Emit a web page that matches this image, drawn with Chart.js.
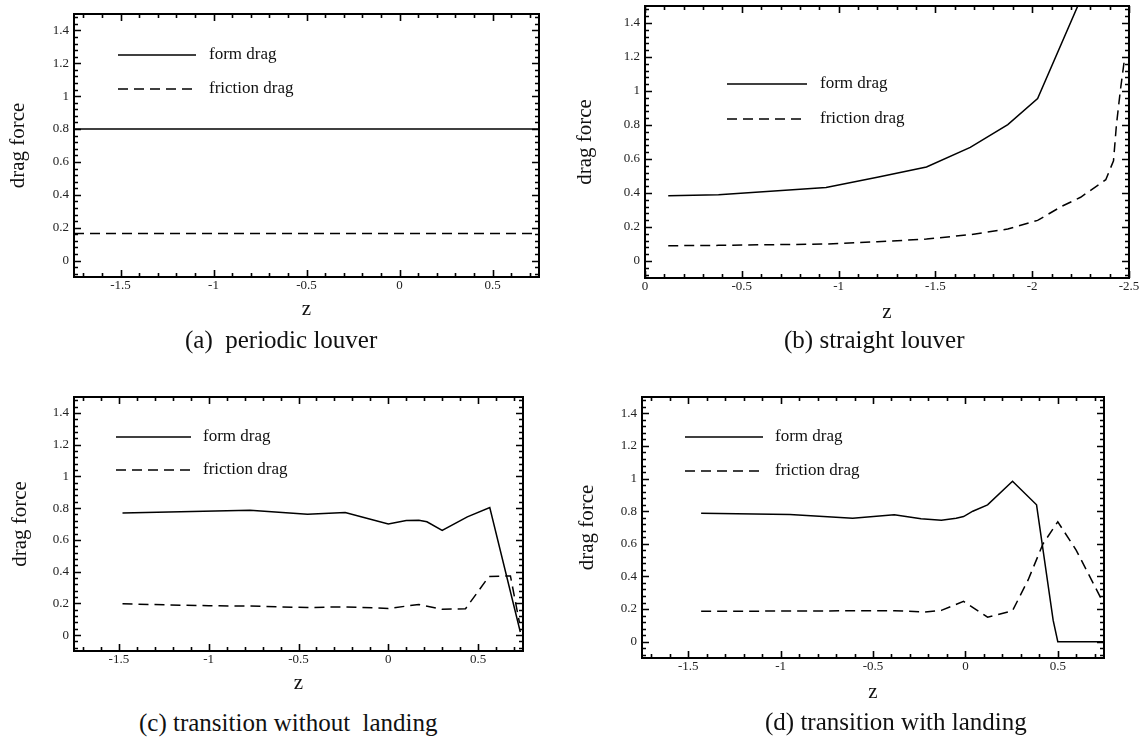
<!DOCTYPE html>
<html lang="en">
<head>
<meta charset="UTF-8">
<title>Form and friction drag along the louver</title>
<script src="https://cdn.jsdelivr.net/npm/chart.js"></script>
<style>
  body { margin: 0; background: #fff; width: 1146px; height: 737px; position: relative; overflow: hidden; }
  canvas { position: absolute; }
  .cap { position: absolute; font-family: "Liberation Serif", "DejaVu Serif", serif; font-size: 25px; line-height: 30px; white-space: pre; color: #111; }
</style>
</head>
<body>
<canvas id="chartA" width="560" height="330" style="left:0px;top:0px"></canvas>
<canvas id="chartB" width="586" height="330" style="left:560px;top:0px"></canvas>
<canvas id="chartC" width="560" height="330" style="left:0px;top:370px"></canvas>
<canvas id="chartD" width="586" height="340" style="left:560px;top:370px"></canvas>

<div class="cap" style="left:185px;top:325px">(a)  periodic louver</div>
<div class="cap" style="left:784px;top:325px">(b) straight louver</div>
<div class="cap" style="left:139px;top:708px">(c) transition without  landing</div>
<div class="cap" style="left:765px;top:707px">(d) transition with landing</div>

<script>
// tick labels
const zTicks = [-1.5, -1, -0.5, 0, 0.5];
const zTicksB = [0, -0.5, -1, -1.5, -2, -2.5];
const dragTicks = [0, 0.2, 0.4, 0.6, 0.8, 1, 1.2, 1.4];

// (a) periodic louver
const zFormA = [-1.75, 0.75];
const formA = [0.8, 0.8];
const zFricA = [-1.75, 0.75];
const fricA = [0.165, 0.165];

// (b) straight louver
const zFormB = [-0.12, -0.38, -0.935, -1.2, -1.454, -1.68, -1.874, -2.028, -2.30];
const formB = [0.384, 0.39, 0.433, 0.492, 0.553, 0.668, 0.802, 0.955, 1.67];
const zFricB = [-0.12, -0.38, -0.935, -1.2, -1.454, -1.68, -1.874, -2.028, -2.15, -2.25, -2.38, -2.42, -2.435, -2.455, -2.478];
const fricB = [0.09, 0.092, 0.10, 0.113, 0.129, 0.155, 0.188, 0.239, 0.32, 0.375, 0.478, 0.59, 0.8, 1.0, 1.2];

// (c) transition without landing
const zFormC = [-1.48, -0.77, -0.45, -0.24, -0.115, 0.0, 0.10, 0.17, 0.215, 0.30, 0.44, 0.565, 0.735];
const formC = [0.77, 0.787, 0.762, 0.772, 0.735, 0.70, 0.722, 0.724, 0.714, 0.659, 0.745, 0.804, 0.02];
const zFricC = [-1.48, -1.0, -0.77, -0.45, -0.24, 0.0, 0.17, 0.30, 0.43, 0.56, 0.68, 0.73];
const fricC = [0.197, 0.185, 0.183, 0.174, 0.178, 0.168, 0.193, 0.163, 0.166, 0.369, 0.373, 0.08];

// (d) transition with landing
const zFormD = [-1.43, -0.95, -0.61, -0.385, -0.24, -0.13, -0.05, -0.01, 0.04, 0.12, 0.255, 0.385, 0.475, 0.50, 0.75];
const formD = [0.788, 0.78, 0.757, 0.778, 0.753, 0.745, 0.757, 0.767, 0.80, 0.839, 0.984, 0.839, 0.13, 0.0, 0.0];
const zFricD = [-1.43, -0.95, -0.385, -0.22, -0.13, -0.01, 0.12, 0.255, 0.34, 0.42, 0.50, 0.60, 0.75];
const fricD = [0.186, 0.188, 0.19, 0.182, 0.192, 0.247, 0.15, 0.19, 0.38, 0.60, 0.735, 0.56, 0.23];

const serif = '"Liberation Serif", "DejaVu Serif", serif';

function pts(xs, ys) {
  return xs.map((x, i) => ({ x: x, y: ys[i] }));
}

// minor/major tick walker
function eachTick(scale, step, major, fn) {
  for (let k = Math.ceil(scale.min / step - 1e-6); k * step <= scale.max + 1e-6; k++) {
    const v = k * step;
    fn(v, Math.abs(v / major - Math.round(v / major)) < 1e-6);
  }
}

// box frame with inward ticks on all four sides
const frameTicks = {
  id: 'frameTicks',
  afterDatasetsDraw(chart) {
    const { ctx, chartArea: a, scales: { x, y } } = chart;
    ctx.save();
    ctx.strokeStyle = '#000';
    ctx.lineWidth = 1.6;
    ctx.beginPath();
    eachTick(x, 0.1, 0.5, (v, m) => {
      const px = Math.round(x.getPixelForValue(v)) + 0.5, len = m ? 7 : 4;
      ctx.moveTo(px, a.bottom); ctx.lineTo(px, a.bottom - len);
      ctx.moveTo(px, a.top); ctx.lineTo(px, a.top + len);
    });
    eachTick(y, 0.04, 0.2, (v, m) => {
      const py = Math.round(y.getPixelForValue(v)) + 0.5, len = m ? 7 : 4;
      ctx.moveTo(a.left, py); ctx.lineTo(a.left + len, py);
      ctx.moveTo(a.right, py); ctx.lineTo(a.right - len, py);
    });
    ctx.stroke();
    ctx.lineWidth = 2;
    ctx.strokeRect(a.left, a.top, a.right - a.left, a.bottom - a.top);
    ctx.restore();
  }
};

// in-plot key: short line sample then label
const keyLines = {
  id: 'keyLines',
  afterDraw(chart, args, o) {
    const { ctx, chartArea: a } = chart;
    chart.data.datasets.forEach((ds, i) => {
      const yy = a.top + o.rows[i];
      ctx.save();
      ctx.strokeStyle = '#000';
      ctx.lineWidth = 1.5;
      ctx.setLineDash(ds.borderDash || []);
      ctx.beginPath();
      ctx.moveTo(a.left + o.x0, yy);
      ctx.lineTo(a.left + o.x1, yy);
      ctx.stroke();
      ctx.setLineDash([]);
      ctx.fillStyle = '#111';
      ctx.font = '17px ' + serif;
      ctx.textBaseline = 'middle';
      ctx.fillText(ds.label, a.left + o.tx, yy);
      ctx.restore();
    });
  }
};

function makePanel(id, g, form, fric) {
  return new Chart(document.getElementById(id), {
    type: 'line',
    data: {
      datasets: [
        { label: 'form drag', data: form, borderColor: '#000', borderWidth: 1.5, pointRadius: 0, tension: 0 },
        { label: 'friction drag', data: fric, borderColor: '#000', borderWidth: 1.5, borderDash: [10, 6], pointRadius: 0, tension: 0 }
      ]
    },
    options: {
      responsive: false,
      animation: false,
      layout: { padding: { left: 0, top: g.top, right: g.right, bottom: 0 } },
      plugins: {
        legend: { display: false },
        tooltip: { enabled: false },
        keyLines: g.key
      },
      scales: {
        x: {
          type: 'linear',
          min: g.xmin, max: g.xmax, reverse: !!g.reverse,
          grid: { display: false, drawTicks: false },
          border: { display: false },
          afterBuildTicks: s => { s.ticks = g.xticks.map(v => ({ value: v })); },
          afterFit: s => { s.height = g.xh; s.paddingLeft = 0; s.paddingRight = 0; },
          ticks: { font: { family: serif, size: 13 }, color: '#222', padding: 1, maxRotation: 0, autoSkip: false, callback: v => String(v) },
          title: { display: true, text: 'z', font: { family: serif, size: 21 }, color: '#111', padding: { top: 0, bottom: g.zpad } }
        },
        y: {
          type: 'linear',
          min: -0.1, max: 1.5,
          grid: { display: false, drawTicks: false },
          border: { display: false },
          afterBuildTicks: s => { s.ticks = dragTicks.map(v => ({ value: v })); },
          afterFit: s => { s.width = g.left; s.paddingTop = 0; s.paddingBottom = 0; },
          ticks: { font: { family: serif, size: 13 }, color: '#222', padding: 5, autoSkip: false, callback: v => String(v) },
          title: { display: true, text: 'drag force', font: { family: serif, size: 21 }, color: '#111', padding: { top: g.ypad, bottom: 0 } }
        }
      }
    },
    plugins: [frameTicks, keyLines]
  });
}

makePanel('chartA',
  { left: 74, top: 14, right: 21, xh: 53, xmin: -1.75, xmax: 0.75, xticks: zTicks, zpad: 8, ypad: 6,
    key: { x0: 44, x1: 122, tx: 135, rows: [41, 75] } },
  pts(zFormA, formA), pts(zFricA, fricA));

makePanel('chartB',
  { left: 85, top: 6, right: 17, xh: 52, xmin: -2.5, xmax: 0, reverse: true, xticks: zTicksB, zpad: 5, ypad: 13,
    key: { x0: 82, x1: 162, tx: 175, rows: [78, 113] } },
  pts(zFormB, formB), pts(zFricB, fricB));

makePanel('chartC',
  { left: 74, top: 27, right: 37, xh: 49, xmin: -1.75, xmax: 0.75, xticks: zTicks, zpad: 4, ypad: 8,
    key: { x0: 42, x1: 117, tx: 129, rows: [40, 73] } },
  pts(zFormC, formC), pts(zFricC, fricC));

makePanel('chartD',
  { left: 82, top: 27, right: 42, xh: 52, xmin: -1.75, xmax: 0.75, xticks: zTicks, zpad: 5, ypad: 15,
    key: { x0: 43, x1: 121, tx: 133, rows: [40, 74] } },
  pts(zFormD, formD), pts(zFricD, fricD));
</script>
</body>
</html>
